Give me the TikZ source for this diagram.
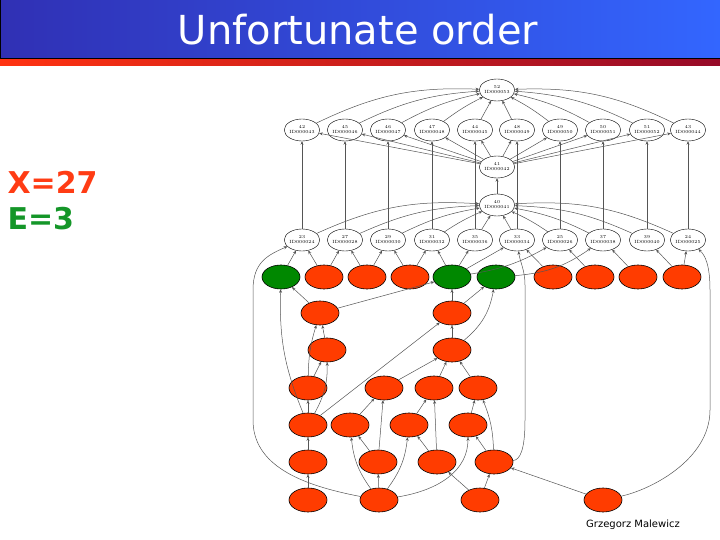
\documentclass[tikz,border=0pt]{standalone}
\usepackage{fontspec}
\setsansfont{DejaVu Sans}
\usetikzlibrary{arrows.meta,shapes.geometric}
\definecolor{hdrdark}{RGB}{48,48,180}
\definecolor{hdrlight}{RGB}{51,102,255}
\definecolor{barred}{RGB}{255,51,17}
\definecolor{bardark}{RGB}{150,10,40}
\definecolor{busy}{RGB}{255,60,0}
\definecolor{done}{RGB}{0,136,0}
\definecolor{xcol}{RGB}{255,60,20}
\definecolor{ecol}{RGB}{20,150,40}
\definecolor{wire}{RGB}{85,85,85}
\tikzset{
  idnode/.style={ellipse, draw=black, line width=0.4pt, fill=white, minimum width=32pt,
                 minimum height=22pt, inner sep=0pt, align=center,
                 font=\fontsize{4.5}{5}\selectfont},
  jobr/.style={ellipse, draw=black, line width=0.6pt, fill=busy, minimum width=38pt,
               minimum height=24pt, inner sep=0pt},
  jobg/.style={jobr, fill=done},
  dep/.style={-{Stealth[length=3.5pt,width=3pt]}, wire, line width=0.5pt},
  side/.style={font=\sffamily\bfseries\fontsize{30}{32}\selectfont, anchor=west},
}

\begin{document}
\begin{tikzpicture}[x=1pt, y=-1pt]
  \useasboundingbox (0,0) rectangle (720,540);
  % header
  \shade[left color=hdrdark, right color=hdrlight] (0,0) rectangle (720,58);
  \draw[black, line width=1pt] (0.5,0) -- (0.5,58.5) -- (720,58.5);
  \shade[left color=barred, right color=bardark] (0,59.5) rectangle (720,66);
  \node[font=\sffamily\fontsize{40}{44}\selectfont, text=white] (title) at (358,30) {Unfortunate order};
  \node[side, text=xcol] (xval) at (4,182) {X=27};
  \node[side, text=ecol] (eval) at (4,219) {E=3};

  % upper graph
  \node[idnode] (n52) at (497,90) {52\\ID000053};
  \node[idnode] (n42) at (302,130) {42\\ID000043};
  \node[idnode] (n45) at (345,130) {45\\ID000046};
  \node[idnode] (n46) at (388,130) {46\\ID000047};
  \node[idnode] (n47) at (432,130) {47\\ID000048};
  \node[idnode] (n44) at (475,130) {44\\ID000045};
  \node[idnode] (n48) at (517,130) {48\\ID000049};
  \node[idnode] (n49) at (560,130) {49\\ID000050};
  \node[idnode] (n50) at (603,130) {50\\ID000051};
  \node[idnode] (n51) at (647,130) {51\\ID000052};
  \node[idnode] (n43) at (688,130) {43\\ID000044};
  \node[idnode] (n41) at (497,167) {41\\ID000042};
  \node[idnode] (n40) at (497,205) {40\\ID000041};
  \node[idnode] (n23) at (302,240) {23\\ID000024};
  \node[idnode] (n27) at (345,240) {27\\ID000028};
  \node[idnode] (n29) at (388,240) {29\\ID000030};
  \node[idnode] (n31) at (432,240) {31\\ID000032};
  \node[idnode] (n35) at (475,240) {35\\ID000036};
  \node[idnode] (n33) at (517,240) {33\\ID000034};
  \node[idnode] (n25) at (560,240) {25\\ID000026};
  \node[idnode] (n37) at (603,240) {37\\ID000038};
  \node[idnode] (n39) at (647,240) {39\\ID000040};
  \node[idnode] (n24) at (688,240) {24\\ID000025};

  \foreach \r/\b in {n42/-14, n45/-11, n46/-8, n47/-5, n44/0, n48/0, n49/5, n50/8, n51/11, n43/14}
    \draw[dep] (\r) to[bend right=\b] (n52);
  \foreach \r in {n42, n45, n46, n47, n44, n48, n49, n50, n51, n43}
    \draw[dep] (n41) -- (\r);
  \foreach \s/\r in {n23/n42, n27/n45, n29/n46, n31/n47, n35/n44, n33/n48, n25/n49, n37/n50, n39/n51, n24/n43}
    \draw[dep] (\s) -- (\r);
  \foreach \s/\b in {n23/-14, n27/-11, n29/-8, n31/-5, n35/0, n33/0, n25/5, n37/8, n39/11, n24/14}
    \draw[dep] (\s) to[bend right=\b] (n40);
  \draw[dep] (n40) -- (n41);

  % lower graph
  \node[jobg] (a1) at (281,277) {};
  \node[jobr] (a2) at (324,277) {};
  \node[jobr] (a3) at (367,277) {};
  \node[jobr] (a4) at (410,277) {};
  \node[jobg] (a5) at (452,277) {};
  \node[jobg] (a6) at (496,277) {};
  \node[jobr] (a7) at (553,277) {};
  \node[jobr] (a8) at (595,277) {};
  \node[jobr] (a9) at (638,277) {};
  \node[jobr] (a10) at (682,277) {};
  \node[jobr] (b1) at (320,313) {};
  \node[jobr] (b2) at (452,313) {};
  \node[jobr] (c1) at (327,350) {};
  \node[jobr] (c2) at (452,350) {};
  \node[jobr] (d1) at (308,388) {};
  \node[jobr] (d2) at (384,388) {};
  \node[jobr] (d3) at (434,388) {};
  \node[jobr] (d4) at (478,388) {};
  \node[jobr] (e1) at (308,425) {};
  \node[jobr] (e2) at (350,425) {};
  \node[jobr] (e3) at (409,425) {};
  \node[jobr] (e4) at (468,425) {};
  \node[jobr] (f1) at (308,462) {};
  \node[jobr] (f2) at (378,462) {};
  \node[jobr] (f3) at (437,462) {};
  \node[jobr] (f4) at (494,462) {};
  \node[jobr] (g1) at (308,500) {};
  \node[jobr] (g2) at (379,500) {};
  \node[jobr] (g3) at (480,500) {};
  \node[jobr] (g4) at (603,500) {};

  \draw[dep] (a1) -- (n23);
  \draw[dep] (a2) -- (n23);
  \draw[dep] (a2) -- (n27);
  \draw[dep] (a3) -- (n27);
  \draw[dep] (a3) -- (n29);
  \draw[dep] (a4) -- (n29);
  \draw[dep] (a4) -- (n31);
  \draw[dep] (a5) -- (n31);
  \draw[dep] (a5) -- (n35);
  \draw[dep] (a5) -- (n33);
  \draw[dep] (a5) to[bend right=10] (n25);
  \draw[dep] (a6) to[bend right=15] (n37);
  \draw[dep] (a7) -- (n33);
  \draw[dep] (a8) -- (n25);
  \draw[dep] (a9) -- (n37);
  \draw[dep] (a10) -- (n39);
  \draw[dep] (a10) -- (n24);

  \draw[dep] (b1) -- (a1);
  \draw[dep] (b1) -- (a5);
  \draw[dep] (c1) -- (b1);
  \draw[dep] (d1) to[bend left=8] (b1);
  \draw[dep] (d1) -- (c1);
  \draw[dep] (e1) -- (d1);
  \draw[dep] (e1) to[bend right=15] (c1);
  \draw[dep] (e1) to[bend left=12] (a1);
  \draw[dep] (e1) -- (b2);
  \draw[dep] (f1) -- (e1);
  \draw[dep] (g1) -- (f1);
  \draw[dep] (b2) -- (a5);
  \draw[dep] (b2) -- (a6);
  \draw[dep] (c2) -- (b2);
  \draw[dep] (c2) to[bend right=20] (a6);
  \draw[dep] (d2) -- (c2);
  \draw[dep] (d3) -- (c2);
  \draw[dep] (d4) -- (c2);
  \draw[dep] (e2) -- (d2);
  \draw[dep] (f2) -- (d2);
  \draw[dep] (e3) -- (d3);
  \draw[dep] (f3) -- (d3);
  \draw[dep] (e4) -- (d4);
  \draw[dep] (f4) to[bend right=10] (d4);
  \draw[dep] (f2) -- (e2);
  \draw[dep] (g2) to[bend left=15] (e2);
  \draw[dep] (f3) -- (e3);
  \draw[dep] (g2) to[bend right=15] (e3);
  \draw[dep] (f4) -- (e4);
  \draw[dep] (g2) .. controls (440,490) and (468,470) .. (e4);
  \draw[dep] (g2) -- (f2);
  \draw[dep] (g3) -- (f3);
  \draw[dep] (g3) -- (f4);
  \draw[dep] (g4) -- (f4);
  \draw[dep] (g2) .. controls (300,485) and (253,465) .. (253,420)
    -- (253,290) .. controls (253,262) and (268,255) .. (n23);
  \draw[dep] (g4) .. controls (650,490) and (710,460) .. (710,410)
    -- (710,290) .. controls (710,265) and (705,255) .. (n24);
  \draw[dep] (f4) .. controls (520,460) and (525,450) .. (525,420)
    -- (525,285) .. controls (525,270) and (520,262) .. (n33);

  \node[font=\sffamily\fontsize{10}{12}\selectfont] (author) at (633,525) {Grzegorz Malewicz};
\end{tikzpicture}
\end{document}
